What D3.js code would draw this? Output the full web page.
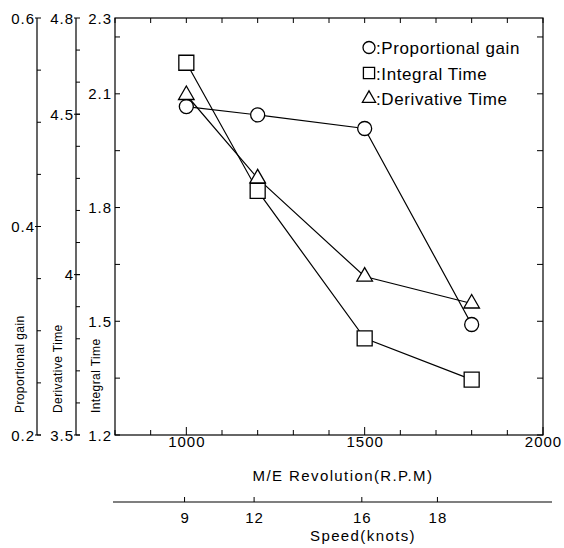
<!DOCTYPE html>
<html>
<head>
<meta charset="utf-8">
<script src="https://cdn.jsdelivr.net/npm/d3@7"></script>
<style>
    body { margin: 0; background: #fff; }
    text { font-family: "Liberation Sans", Arial, sans-serif; fill: #000; }
    .tick-label { font-size: 15px; letter-spacing: 1px; }
    .axis-title { font-size: 15px; letter-spacing: 1.4px; }
    .side-title { font-size: 12px; letter-spacing: 0.4px; }
    .legend-text { font-size: 17px; letter-spacing: 0.6px; }
</style>
</head>
<body>
<svg id="chart" width="564" height="548"></svg>
<script>
// values
const rpm = [1000, 1200, 1500, 1800];
const propGain = [0.515, 0.507, 0.494, 0.306];
const integralTime = [2.182, 1.844, 1.455, 1.346];
const derivTime = [4.56, 4.30, 3.994, 3.91];

const speedKnots = [9, 12, 16, 18];
const speedAtRpm = [995, 1190, 1492, 1704];

const rpmLabels = [1000, 1500, 2000];
const propLabels = [0.6, 0.4, 0.2];
const derivLabels = [4.8, 4.5, 4, 3.5];
const integLabels = [2.3, 2.1, 1.8, 1.5, 1.2];

const legendItems = [
    { label: ":Proportional gain", shape: "circle" },
    { label: ":Integral Time", shape: "square" },
    { label: ":Derivative Time", shape: "triangle" }
];

const svg = d3.select("#chart");
const frame = { left: 115, right: 543, top: 18, bottom: 435 };

const x = d3.scaleLinear().domain([800, 2000]).range([frame.left, frame.right]);
const yProp = d3.scaleLinear().domain([0.2, 0.6]).range([frame.bottom, frame.top]);
const yDeriv = d3.scaleLinear().domain([3.5, 4.8]).range([frame.bottom, frame.top]);
const yInteg = d3.scaleLinear().domain([1.2, 2.3]).range([frame.bottom, frame.top]);

const fmt = d => String(+d.toFixed(2));

// frame
svg.append("rect")
    .attr("x", frame.left).attr("y", frame.top)
    .attr("width", frame.right - frame.left)
    .attr("height", frame.bottom - frame.top)
    .attr("fill", "none").attr("stroke", "#000").attr("stroke-width", 1.2);

// bottom + top ticks
const xMinor = d3.range(800, 2001, 100);
xMinor.forEach(v => {
    const len = rpmLabels.includes(v) ? 8 : 5;
    svg.append("line").attr("x1", x(v)).attr("x2", x(v))
        .attr("y1", frame.bottom).attr("y2", frame.bottom - len)
        .attr("stroke", "#000");
    svg.append("line").attr("x1", x(v)).attr("x2", x(v))
        .attr("y1", frame.top).attr("y2", frame.top + 5)
        .attr("stroke", "#000");
});
svg.selectAll(".xlab").data(rpmLabels).join("text")
    .attr("class", "tick-label")
    .attr("x", d => x(d) + 0.5).attr("y", 447)
    .attr("text-anchor", "middle")
    .text(d => d);
svg.append("text").attr("class", "axis-title")
    .attr("x", 343).attr("y", 481)
    .attr("text-anchor", "middle")
    .text("M/E Revolution(R.P.M)");

// speed axis
const speedY = 502;
svg.append("line").attr("x1", 113).attr("x2", 552)
    .attr("y1", speedY).attr("y2", speedY).attr("stroke", "#000").attr("stroke-width", 1.2);
speedKnots.forEach((k, i) => {
    const px = x(speedAtRpm[i]);
    svg.append("line").attr("x1", px).attr("x2", px)
        .attr("y1", speedY).attr("y2", speedY - 5).attr("stroke", "#000");
    svg.append("text").attr("class", "tick-label")
        .attr("x", px + 0.5).attr("y", 523)
        .attr("text-anchor", "middle").text(k);
});
svg.append("text").attr("class", "axis-title")
    .attr("x", 363).attr("y", 541)
    .attr("text-anchor", "middle")
    .text("Speed(knots)");

// integral axis ticks (left frame) and mirrored right ticks
d3.range(1.2, 2.3, 0.15).forEach(v => {
    svg.append("line").attr("x1", frame.left).attr("x2", frame.left + 5)
        .attr("y1", yInteg(v)).attr("y2", yInteg(v)).attr("stroke", "#000");
    svg.append("line").attr("x1", frame.right).attr("x2", frame.right - 6)
        .attr("y1", yInteg(v)).attr("y2", yInteg(v)).attr("stroke", "#000");
});

// draws one of the stacked left axes
function leftAxis(ax, scale, labels, minor, title, titleX) {
    svg.append("line").attr("x1", ax).attr("x2", ax)
        .attr("y1", frame.top).attr("y2", frame.bottom)
        .attr("stroke", "#000").attr("stroke-width", 1.2);
    minor.forEach(v => {
        svg.append("line").attr("x1", ax).attr("x2", ax + 4)
            .attr("y1", scale(v)).attr("y2", scale(v)).attr("stroke", "#000");
    });
    labels.forEach(v => {
        svg.append("line").attr("x1", ax - 2).attr("x2", ax + 4)
            .attr("y1", scale(v)).attr("y2", scale(v)).attr("stroke", "#000");
        svg.append("text").attr("class", "tick-label")
            .attr("x", ax - 2).attr("y", scale(v) + 5.5)
            .attr("text-anchor", "end")
            .text(fmt(v));
    });
    svg.append("text").attr("class", "side-title")
        .attr("transform", `translate(${titleX}, 413) rotate(-90)`)
        .text(title);
}

leftAxis(37, yProp, propLabels, d3.range(0.2, 0.6, 0.05), "Proportional gain", 24);
leftAxis(76, yDeriv, derivLabels, d3.range(3.5, 4.8, 0.1), "Derivative Time", 62);
svg.selectAll(".ilab").data(integLabels).join("text")
    .attr("class", "tick-label")
    .attr("x", frame.left - 3).attr("y", d => yInteg(d) + 5.5)
    .attr("text-anchor", "end")
    .text(d => fmt(d));
svg.append("text").attr("class", "side-title")
    .attr("transform", "translate(100, 413) rotate(-90)")
    .text("Integral Time");

// series
const series = [
    { values: propGain, scale: yProp, shape: "circle" },
    { values: integralTime, scale: yInteg, shape: "square" },
    { values: derivTime, scale: yDeriv, shape: "triangle" }
];

const line = d3.line();
series.forEach(s => {
    const pts = rpm.map((r, i) => [x(r), s.scale(s.values[i])]);
    svg.append("path").attr("d", line(pts))
        .attr("fill", "none").attr("stroke", "#000").attr("stroke-width", 1.2);
});

function marker(g, shape, cx, cy, big) {
    if (shape === "circle") {
        g.append("circle").attr("cx", cx).attr("cy", cy).attr("r", big ? 7 : 6)
            .attr("fill", "#fff").attr("stroke", "#000").attr("stroke-width", 1.3);
    } else {
        const sym = shape === "square" ? d3.symbolSquare : d3.symbolTriangle;
        const size = shape === "square" ? (big ? 225 : 125) : (big ? 105 : 75);
        g.append("path").attr("d", d3.symbol(sym, size)())
            .attr("transform", `translate(${cx},${cy})`)
            .attr("fill", "#fff").attr("stroke", "#000").attr("stroke-width", 1.3);
    }
}

series.forEach(s => {
    rpm.forEach((r, i) => marker(svg, s.shape, x(r), s.scale(s.values[i]), true));
});

// legend
legendItems.forEach((item, i) => {
    const base = 54 + i * 25.5;
    marker(svg, item.shape, 369, base - 6.5, false);
    svg.append("text").attr("class", "legend-text")
        .attr("x", 376).attr("y", base)
        .text(item.label);
});
</script>
</body>
</html>
